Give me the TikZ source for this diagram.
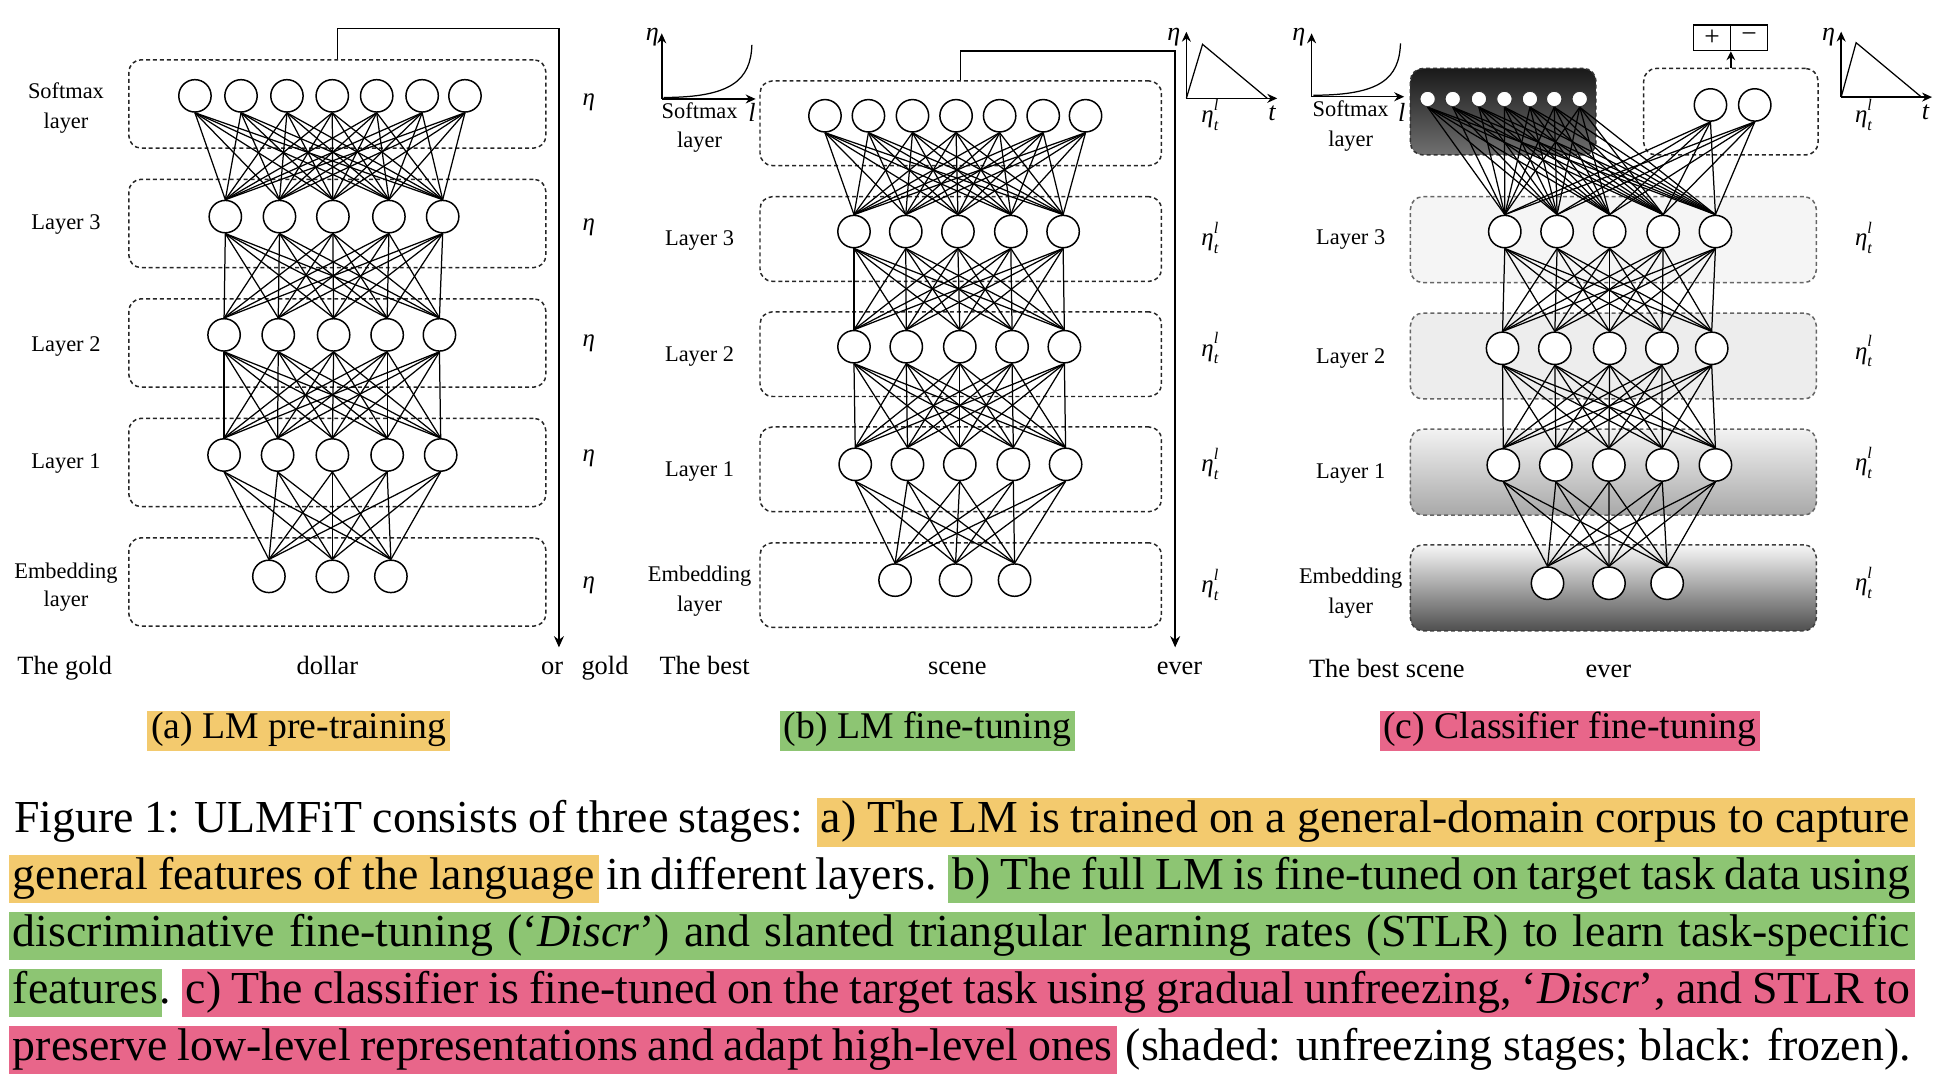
\documentclass[tikz,border=0pt]{standalone}
\usepackage{fontspec}
\setmainfont{Liberation Serif}
\usetikzlibrary{arrows.meta,calc}
\definecolor{hlY}{RGB}{243,202,110}
\definecolor{hlG}{RGB}{141,197,115}
\definecolor{hlP}{RGB}{232,102,138}
\pgfdeclarelayer{back}
\pgfdeclarelayer{mid}
\pgfsetlayers{back,mid,main}
\newcommand{\capfont}{\fontsize{18.4}{23}\selectfont}
\newcommand{\etatl}{\textit{η}\rlap{\raisebox{0.5em}{\fontsize{6.5}{7}\selectfont\textit{l}}}\raisebox{-0.3em}{\fontsize{6.5}{7}\selectfont\textit{t}}}
\begin{document}
\begin{tikzpicture}[x=0.5pt,y=-0.5pt,
  lbox/.style={draw=black!85, dash pattern=on 1.6pt off 1.2pt, line width=0.6pt, rounded corners=5pt, inner sep=0pt},
  neuron/.style={circle, draw, line width=0.6pt, fill=white, inner sep=0pt, minimum size=13pt},
  sneuron/.style={circle, draw=black!80, line width=0.4pt, fill=white, inner sep=0pt, minimum size=6.2pt},
  conn/.style={line width=0.5pt},
  lab/.style={font=\fontsize{9}{11}\selectfont, anchor=base, inner sep=0pt},
  word/.style={font=\fontsize{10.6}{12}\selectfont, anchor=base, inner sep=0pt},
  eta/.style={font=\fontsize{10}{12}\selectfont, anchor=base, inner sep=0pt},
  plotlab/.style={font=\fontsize{10.5}{12}\selectfont, inner sep=0pt},
  arr/.style={line width=0.6pt, -{Stealth[length=4.5pt,width=4pt]}},
  sarr/.style={line width=0.6pt, -{Stealth[length=3.5pt,width=3.5pt]}},
  axis/.style={line width=0.6pt, -{Stealth[length=4pt,width=3.6pt]}},
  pm/.style={draw, line width=0.6pt, minimum width=14.9pt, minimum height=10.35pt, inner sep=0pt, font=\fontsize{11}{11}\selectfont},
  capseg/.style={anchor=base west, inner xsep=1.75pt, inner ysep=0pt, text height=14pt, text depth=5.5pt, font=\capfont},
  pcap/.style={anchor=base, inner xsep=1.5pt, inner ysep=0pt, text height=11pt, text depth=5pt, font=\fontsize{15.15}{18}\selectfont}
]
\useasboundingbox (0,0) rectangle (1560,867.6);

% ---------------- layer boxes ----------------
\begin{pgfonlayer}{back}
\foreach \y [count=\i] in {83.5,179.5,275.5,371.5,467.5}
  \node[lbox, minimum width=167.5pt, minimum height=35.5pt] (ab\i) at (271,\y) {};
\foreach \y [count=\i] in {99,192,284.5,377,470}
  \node[lbox, minimum width=161.25pt, minimum height=34pt] (bb\i) at (771.75,\y) {};
\node[lbox, draw=black!80, top color=black!90, bottom color=black!56, minimum width=74.5pt, minimum height=34.75pt] (cb1) at (1207.5,89.75) {};
\node[lbox, fill=white, minimum width=70pt, minimum height=34.75pt] (cbc) at (1390.4,89.75) {};
\node[lbox, draw=black!60, fill=black!4, minimum width=163pt, minimum height=34.5pt] (cb2) at (1296,192.5) {};
\node[lbox, draw=black!60, fill=black!7, minimum width=163pt, minimum height=34.5pt] (cb3) at (1296,286) {};
\node[lbox, draw=black!60, top color=black!5, bottom color=black!34, minimum width=163pt, minimum height=34.5pt] (cb4) at (1296,379.25) {};
\node[lbox, draw=black!75, top color=black!3, bottom color=black!69, minimum width=163pt, minimum height=34.5pt] (cb5) at (1296,472.2) {};
\end{pgfonlayer}

% ---------------- neurons: panel a ----------------
\foreach \x [count=\i] in {156.6,193.6,230.5,266.9,302.6,339.1,373.5}
  \node[neuron] (as-\i) at (\x,77) {};
\foreach \x [count=\i] in {181,224.5,267.4,312.4,355.6}
  \node[neuron] (a3-\i) at (\x,174) {};
\foreach \x [count=\i] in {180,223.5,268,311,353}
  \node[neuron] (a2-\i) at (\x,269) {};
\foreach \x [count=\i] in {180,223,267,311,354}
  \node[neuron] (a1-\i) at (\x,365.5) {};
\foreach \x [count=\i] in {216,267,314}
  \node[neuron] (ae-\i) at (\x,463) {};

% ---------------- neurons: panel b ----------------
\foreach \x [count=\i] in {662.7,697.6,733,768,803,838,872}
  \node[neuron] (bs-\i) at (\x,93) {};
\foreach \x [count=\i] in {686,727.6,769.5,812,854}
  \node[neuron] (b3-\i) at (\x,186) {};
\foreach \x [count=\i] in {686,728,771,813,855}
  \node[neuron] (b2-\i) at (\x,278.5) {};
\foreach \x [count=\i] in {687,729,771,814,856}
  \node[neuron] (b1-\i) at (\x,373) {};
\foreach \x [count=\i] in {719,767.6,815}
  \node[neuron] (be-\i) at (\x,466) {};

% ---------------- neurons: panel c ----------------
\foreach \x [count=\i] in {1146.8,1167,1188,1208.5,1229,1248.5,1269}
  \node[sneuron] (cs-\i) at (\x,79.5) {};
\foreach \x [count=\i] in {1374,1409.6}
  \node[neuron] (cc-\i) at (\x,84.3) {};
\foreach \x [count=\i] in {1208.8,1250.8,1293,1336,1378}
  \node[neuron] (c3-\i) at (\x,186) {};
\foreach \x [count=\i] in {1207,1249,1293,1335,1375}
  \node[neuron] (c2-\i) at (\x,279.8) {};
\foreach \x [count=\i] in {1207.6,1249.8,1292.4,1335.3,1378}
  \node[neuron] (c1-\i) at (\x,373.5) {};
\foreach \x [count=\i] in {1243.1,1292.5,1339.2}
  \node[neuron] (ce-\i) at (\x,468.5) {};

% ---------------- connections ----------------
\begin{pgfonlayer}{mid}
\foreach \i in {1,...,7}{\foreach \j in {1,...,5}{
  \draw[conn] (as-\i.south) -- (a3-\j.north);
  \draw[conn] (bs-\i.south) -- (b3-\j.north);
  \draw[conn] (cs-\i.south) -- (c3-\j.north);}}
\foreach \i in {1,2}{\foreach \j in {1,...,5}{
  \draw[conn] (cc-\i.south) -- (c3-\j.north);}}
\foreach \i in {1,...,5}{\foreach \j in {1,...,5}{
  \draw[conn] (a3-\i.south) -- (a2-\j.north);
  \draw[conn] (a2-\i.south) -- (a1-\j.north);
  \draw[conn] (b3-\i.south) -- (b2-\j.north);
  \draw[conn] (b2-\i.south) -- (b1-\j.north);
  \draw[conn] (c3-\i.south) -- (c2-\j.north);
  \draw[conn] (c2-\i.south) -- (c1-\j.north);}}
\foreach \i in {1,...,5}{\foreach \j in {1,2,3}{
  \draw[conn] (a1-\i.south) -- (ae-\j.north);
  \draw[conn] (b1-\i.south) -- (be-\j.north);
  \draw[conn] (c1-\i.south) -- (ce-\j.north);}}
\end{pgfonlayer}

% ---------------- layer labels ----------------
\node[lab] (la1) at (53,79.5) {Softmax};
\node[lab] (la1b) at (53,103) {layer};
\node[lab] (la2) at (53,184) {Layer 3};
\node[lab] (la3) at (53,282.5) {Layer 2};
\node[lab] (la4) at (53,376) {Layer 1};
\node[lab] (la5) at (53,464.5) {Embedding};
\node[lab] (la5b) at (53,487.5) {layer};

\node[lab] (lb1) at (562,95) {Softmax};
\node[lab] (lb1b) at (562,118.5) {layer};
\node[lab] (lb2) at (562,197) {Layer 3};
\node[lab] (lb3) at (562,290.5) {Layer 2};
\node[lab] (lb4) at (562,383) {Layer 1};
\node[lab] (lb5) at (562,467) {Embedding};
\node[lab] (lb5b) at (562,491) {layer};

\node[lab] (lc1) at (1085,93.7) {Softmax};
\node[lab] (lc1b) at (1085,117.8) {layer};
\node[lab] (lc2) at (1085,196.8) {Layer 3};
\node[lab] (lc3) at (1085,291.7) {Layer 2};
\node[lab] (lc4) at (1085,384) {Layer 1};
\node[lab] (lc5) at (1085,468.5) {Embedding};
\node[lab] (lc5b) at (1085,492.6) {layer};

% ---------------- learning-rate labels ----------------
\foreach \y [count=\i] in {85,185,278,371,473}
  \node[eta] (ea-\i) at (473,\y) {\textit{η}};
\foreach \y [count=\i] in {98.5,197.5,286,379,476}
  \node[eta] (eb-\i) at (972,\y) {\etatl};
\foreach \y [count=\i] in {98.5,197.5,288.5,378,474.5}
  \node[eta] (ec-\i) at (1497,\y) {\etatl};

% ---------------- words ----------------
\node[word] (wa1) at (52,542) {The gold};
\node[word] (wa2) at (263,542) {dollar};
\node[word] (wa3) at (443.5,542) {or};
\node[word] (wa4) at (486,542) {gold};
\node[word] (wb1) at (566,542) {The best};
\node[word] (wb2) at (769,542) {scene};
\node[word] (wb3) at (947.5,542) {ever};
\node[word] (wc1) at (1114,544.6) {The best scene};
\node[word] (wc2) at (1292,544.6) {ever};

% ---------------- output arrows ----------------
\coordinate (aTR) at (449,22.8);
\coordinate (aEnd) at (449,520);
\draw[arr] (ab1.north) |- (aTR) -- (aEnd);
\coordinate (bTR) at (944,41);
\coordinate (bEnd) at (944,520);
\draw[arr] (bb1.north) |- (bTR) -- (bEnd);

\node[pm] (plus) at (1375.3,30.35) {+};
\node[pm] (minus) at (1405.1,30.35) {−};
\draw[sarr] (cbc.north) -- (cbc.north |- plus.south);

% ---------------- learning-rate plots ----------------
% panel b, discriminative
\draw[axis] (531.6,79.5) -- (531.6,26.8);
\draw[axis] (531.6,79.5) -- (607,79.5);
\draw[line width=0.5pt] (533,78.3) .. controls (588,78.3) and (603,64) .. (604,36);
\node[plotlab] (pb1e) at (524,29.5) {\textit{η}};
\node[plotlab] (pb1l) at (604,90) {\textit{l}};
% panel b, STLR
\draw[axis] (953,79) -- (953,25.5);
\draw[axis] (953,79) -- (1026,79);
\draw[line width=0.5pt] (953,79) -- (966,35.6) -- (1018,79);
\node[plotlab] (pb2e) at (943,29.5) {\textit{η}};
\node[plotlab] (pb2t) at (1022,91) {\textit{t}};
% panel c, discriminative
\draw[axis] (1053.6,77.7) -- (1053.6,26.8);
\draw[axis] (1053.6,77.7) -- (1128,77.7);
\draw[line width=0.5pt] (1055,76.5) .. controls (1109,76.5) and (1124,63) .. (1125,34.8);
\node[plotlab] (pc1e) at (1043.4,29.5) {\textit{η}};
\node[plotlab] (pc1l) at (1126,90) {\textit{l}};
% panel c, STLR
\draw[axis] (1479,78) -- (1479,25.4);
\draw[axis] (1479,78) -- (1552,78);
\draw[line width=0.5pt] (1479,78) -- (1491,34.3) -- (1543.5,78);
\node[plotlab] (pc2e) at (1469,29.5) {\textit{η}};
\node[plotlab] (pc2t) at (1547,90) {\textit{t}};

% ---------------- panel captions ----------------
\node[pcap, fill=hlY] (capa) at (240,593) {(a) LM pre-training};
\node[pcap, fill=hlG] (capb) at (745,593) {(b) LM fine-tuning};
\node[pcap, fill=hlP] (capc) at (1261,593) {(c) Classifier fine-tuning};

% ---------------- figure caption ----------------
\node[capseg] (r1a) at (7.5,669) {\makebox[317pt][s]{Figure 1: ULMFiT consists of three stages:}};
\node[capseg, fill=hlY] (r1b) at (655.5,669) {\makebox[437.5pt][s]{a) The LM is trained on a general-domain corpus to capture}};

\node[capseg, fill=hlY] (r2a) at (6.5,714.7) {\makebox[233.5pt][s]{general features of the language}};
\node[capseg] (r2b) at (483.5,714.7) {\makebox[132.5pt][s]{in different layers.}};
\node[capseg, fill=hlG] (r2c) at (761.5,714.7) {\makebox[384.5pt][s]{b) The full LM is fine-tuned on target task data using}};

\node[capseg, fill=hlG] (r3a) at (6.5,760.4) {\makebox[762pt][s]{discriminative fine-tuning (‘\textit{Discr}’) and slanted triangular learning rates (STLR) to learn task-specific}};

\node[capseg, fill=hlG] (r4a) at (6.5,806.1) {features};
\node[capseg, inner xsep=0pt] (r4b) at (128,806.1) {.};
\node[capseg, fill=hlP] (r4c) at (145.5,806.1) {\makebox[692.5pt][s]{c) The classifier is fine-tuned on the target task using gradual unfreezing, ‘\textit{Discr}’, and STLR to}};

\node[capseg, fill=hlP] (r5a) at (6.5,851.8) {\makebox[441.5pt][s]{preserve low-level representations and adapt high-level ones}};
\node[capseg] (r5b) at (900.5,851.8) {(shaded: unfreezing stages; black: frozen).};
\end{tikzpicture}
\end{document}
